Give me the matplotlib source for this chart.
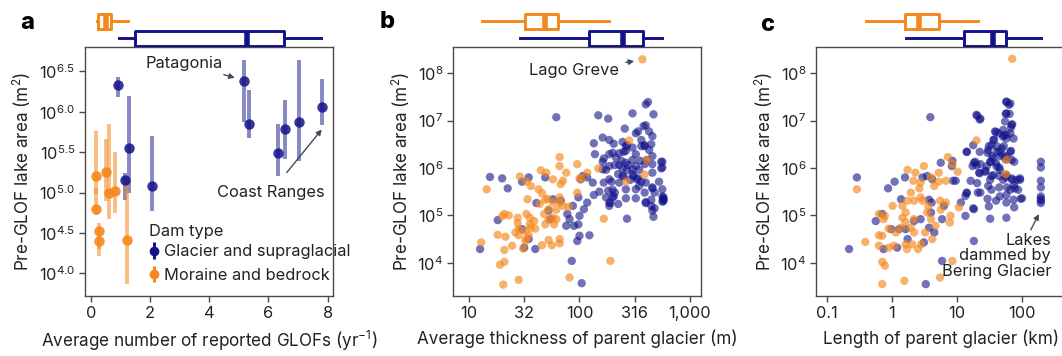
import numpy as np
import matplotlib
matplotlib.use("Agg")
import matplotlib.pyplot as plt
from matplotlib.ticker import NullLocator

plt.rcParams['font.family'] = ['Inter', 'DejaVu Sans']
plt.rcParams['mathtext.fontset'] = 'custom'
plt.rcParams['mathtext.rm'] = 'Inter'
plt.rcParams['mathtext.it'] = 'Inter:italic'
plt.rcParams['mathtext.bf'] = 'Inter:bold'
plt.rcParams['axes.unicode_minus'] = True

NAVY = '#12128a'
ORANGE = '#f5881c'
SPINE = '#4a4a4a'
TXT = '#222222'
ARROW = '#3d4b5c'
FS = 11.8

# ---------------- panel a: GLOF frequency vs lake area (log10 m2) ----------------
glacier_rate = [0.92, 1.29, 1.16, 2.06, 5.18, 5.35, 6.33, 6.57, 7.04, 7.80]
glacier_area = [6.33, 5.55, 5.16, 5.08, 6.38, 5.85, 5.49, 5.78, 5.87, 6.06]
glacier_lo = [6.18, 5.00, 4.91, 4.77, 5.87, 5.68, 5.20, 5.42, 5.39, 5.84]
glacier_hi = [6.43, 6.19, 5.24, 5.70, 6.64, 6.27, 5.85, 6.15, 6.64, 6.40]

moraine_rate = [0.17, 0.17, 0.26, 0.28, 0.50, 0.60, 0.82, 1.23]
moraine_area = [5.20, 4.80, 4.52, 4.40, 5.26, 5.00, 5.02, 4.41]
moraine_lo = [4.98, 4.72, 4.30, 4.22, 4.90, 4.67, 4.75, 3.87]
moraine_hi = [5.76, 5.05, 4.62, 4.55, 5.66, 5.85, 5.50, 5.16]

# box summaries (whislo, q1, med, q3, whishi)
box_a_moraine = [0.19, 0.23, 0.51, 0.68, 1.24]
box_a_glacier = [0.96, 1.49, 5.26, 6.52, 7.79]

# ---------------- panel b: glacier thickness (log10 m) vs lake area (log10 m2) ----
thick_moraine = [2.57, 2.45, 2.61, 2.59, 2.42, 2.17, 2.22, 2.28, 1.91, 1.82,
                 1.82, 1.98, 1.88, 2.07, 2.02, 1.65, 1.70, 1.76, 1.85, 1.83,
                 1.52, 1.46, 1.56, 1.63, 1.66, 1.71, 1.69, 1.53, 1.76, 1.82,
                 1.72, 1.76, 1.79, 1.85, 1.82, 1.90, 1.64, 1.68, 1.52, 1.55,
                 1.59, 1.72, 1.79, 1.77, 1.69, 1.60, 1.56, 1.55, 1.51, 1.32,
                 1.36, 1.30, 1.44, 1.44, 1.45, 1.42, 1.52, 1.51, 1.49, 1.54,
                 1.45, 1.33, 1.26, 1.39, 1.32, 1.66, 1.72, 1.75, 1.82, 1.82,
                 1.16, 1.11, 1.32, 1.28, 1.45, 1.31, 1.98, 2.00]
area_b_moraine = [8.29, 6.58, 6.17, 5.86, 5.71, 5.99, 4.93, 4.04, 3.69, 6.23,
                  6.04, 6.08, 5.90, 5.90, 5.78, 5.95, 5.90, 5.76, 5.73, 5.66,
                  5.71, 5.82, 5.62, 5.55, 5.47, 5.35, 5.33, 5.34, 5.27, 5.27,
                  5.13, 4.95, 5.12, 5.20, 5.38, 5.18, 5.24, 5.03, 5.03, 4.95,
                  4.88, 4.91, 4.92, 4.81, 4.81, 4.72, 4.74, 4.81, 4.67, 5.03,
                  5.00, 4.98, 4.95, 4.84, 4.72, 4.64, 4.50, 4.46, 4.30, 4.58,
                  4.58, 4.55, 4.59, 4.36, 4.27, 4.37, 4.48, 4.37, 4.50, 4.41,
                  5.55, 4.43, 4.02, 3.96, 3.64, 3.54, 5.48, 5.78]

thick_glacier = [1.79, 2.17, 2.26, 2.48, 2.62, 2.60, 2.67, 2.41, 2.58, 2.60,
                 2.53, 2.51, 2.63, 2.66, 2.21, 2.27, 2.31, 2.13, 2.42, 2.48,
                 2.56, 2.65, 2.59, 2.51, 2.42, 2.30, 2.36, 2.14, 2.27, 2.21,
                 2.33, 2.38, 2.42, 2.48, 2.55, 2.61, 2.66, 2.75, 2.27, 2.32,
                 2.36, 2.39, 2.44, 2.48, 2.51, 2.54, 2.59, 2.66, 2.75, 2.66,
                 2.72, 2.75, 2.76, 2.76, 2.66, 2.60, 2.59, 2.68, 2.60, 2.65,
                 2.66, 2.67, 2.43, 2.51, 2.42, 2.27, 2.35, 2.39, 2.48, 2.52,
                 2.29, 2.36, 2.26, 2.32, 2.30, 2.27, 2.35, 2.12, 2.07, 2.03,
                 2.01, 2.13, 2.07, 2.04, 1.99, 1.94, 1.89, 1.91, 2.00, 1.99,
                 1.95, 1.88, 2.00, 2.09, 1.98, 1.93, 2.02, 1.83, 1.76, 1.61,
                 1.72, 1.74, 1.48, 1.54, 1.30, 1.35, 1.19, 1.69, 1.26, 1.48,
                 1.54, 1.50, 1.60, 1.10, 2.27, 2.24, 2.18, 2.22, 2.21, 2.42,
                 2.51, 2.54, 2.76, 2.76, 2.43, 2.46, 2.53, 2.56, 2.30, 2.31,
                 2.28, 2.40, 2.49, 2.66, 2.65, 2.68, 2.60, 2.40, 2.43, 2.56,
                 2.59, 2.63, 2.39, 2.22, 2.24, 2.75, 2.75, 2.74, 2.74]
area_b_glacier = [7.07, 7.11, 7.04, 7.15, 7.39, 7.34, 7.13, 6.83, 6.88, 6.90,
                  6.77, 6.73, 6.77, 6.67, 6.64, 6.59, 6.51, 6.52, 6.46, 6.43,
                  6.46, 6.50, 6.46, 6.29, 6.36, 6.32, 6.31, 6.29, 6.29, 6.13,
                  6.22, 6.15, 6.11, 6.17, 6.15, 6.17, 6.25, 6.13, 6.04, 6.06,
                  6.06, 5.99, 6.06, 5.97, 6.04, 5.96, 6.08, 6.08, 6.01, 5.90,
                  5.71, 5.55, 5.38, 5.33, 5.59, 5.69, 5.48, 5.48, 5.28, 5.20,
                  5.10, 4.97, 4.93, 5.36, 5.36, 5.76, 5.87, 5.83, 5.87, 5.76,
                  5.71, 5.69, 5.52, 5.48, 5.38, 5.20, 5.24, 5.69, 5.80, 5.83,
                  5.76, 5.43, 5.27, 5.13, 5.38, 5.20, 5.03, 4.92, 4.99, 4.81,
                  4.78, 4.78, 4.57, 4.58, 4.46, 4.04, 3.57, 5.31, 5.34, 5.26,
                  5.10, 4.92, 5.71, 5.80, 5.78, 5.57, 5.81, 5.80, 4.90, 4.71,
                  4.50, 4.32, 4.29, 4.29, 5.27, 5.38, 5.50, 5.69, 5.97, 5.55,
                  5.55, 5.62, 5.35, 5.30, 5.96, 5.75, 5.78, 5.71, 5.54, 5.40,
                  5.26, 5.82, 5.83, 5.57, 5.33, 5.15, 5.26, 6.34, 6.48, 6.59,
                  6.48, 6.38, 6.55, 6.20, 5.96, 5.40, 5.29, 6.13, 5.99]

box_b_moraine = [1.115, 1.51, 1.69, 1.81, 2.27]
box_b_glacier = [1.46, 2.09, 2.39, 2.575, 2.75]

# ---------------- panel c: glacier length (log10 km) vs lake area (log10 m2) ------
length_moraine = [1.85, 1.30, 1.76, 1.75, 0.86, 0.49, 0.93, 1.01, 0.36, 0.24,
                  0.33, 0.44, 0.60, 0.72, 0.83, 0.42, 0.29, 0.44, 0.24, 0.34,
                  0.47, 0.56, 0.74, 0.83, 1.03, 0.16, 0.01, 0.54, 0.75, 0.90,
                  0.60, 0.67, 0.34, 0.21, 0.16, 0.21, 0.29, 0.14, 0.06, -0.20,
                  -0.11, -0.13, -0.05, -0.20, -0.15, -0.05, 0.03, -0.20, 0.21, 0.31,
                  0.45, 0.40, -0.41, -0.15, -0.11, -0.54, 0.19, -0.15, 0.74, 0.93,
                  0.51, 0.34, 0.23, 0.62, 0.89, 0.72, 0.65]
area_c_moraine = [8.30, 6.58, 6.17, 5.87, 6.23, 6.04, 6.08, 5.92, 5.90, 5.96,
                  5.73, 5.69, 5.80, 5.71, 5.73, 5.57, 5.48, 5.38, 5.31, 5.31,
                  5.31, 5.20, 5.31, 5.27, 5.17, 5.20, 5.20, 5.06, 5.12, 4.99,
                  4.92, 4.78, 4.92, 5.06, 4.95, 4.86, 4.74, 4.74, 4.64, 5.03,
                  4.99, 4.92, 4.72, 4.58, 4.57, 4.32, 4.36, 4.36, 4.39, 4.39,
                  4.39, 4.29, 4.44, 4.02, 3.94, 5.55, 3.62, 3.55, 3.69, 4.04,
                  4.64, 4.64, 4.29, 4.50, 4.85, 5.90, 5.62]

length_glacier = [0.59, 1.31, 1.36, 1.76, 1.80, 1.75, 1.85, 1.83, 1.60, 1.72,
                  1.76, 1.57, 1.61, 1.72, 1.65, 1.49, 1.47, 1.54, 1.67, 1.75,
                  1.83, 1.88, 1.15, 1.26, 1.36, 1.46, 1.52, 1.60, 1.65, 1.44,
                  1.34, 1.53, 1.65, 1.75, 1.85, 1.97, 1.88, 1.77, 1.65, 1.48,
                  1.31, 1.21, 1.24, 0.75, 0.92, 0.98, 1.15, 1.36, 1.47, 1.60,
                  1.76, 1.88, 1.98, 1.49, 1.32, 1.13, 1.26, 1.13, 1.51, 1.76,
                  2.29, 2.29, 2.29, 2.29, 2.29, 2.29, 2.29, 2.29, 0.54, 0.62,
                  0.47, 0.20, 0.04, -0.06, -0.54, 0.14, 0.57, 0.61, 0.80, 0.94,
                  0.77, 0.60, 0.44, 0.34, 0.57, 0.65, 0.21, 0.11, -0.15, -0.25,
                  -0.01, -0.13, 0.08, 0.24, 0.49, -0.66, 0.77, 1.26, 0.52, 0.93,
                  1.06, 1.585, 1.64, 1.71, 1.76, 1.84, 1.82, 1.87, 1.56, 1.53,
                  1.61, 1.69, 1.71, 1.76, 1.56, 1.51, 1.61, 1.66, 1.56, 1.51,
                  1.71, 1.76, 1.84, 1.92, 1.89, 1.82, 1.76, 1.66, 1.53, 1.35,
                  1.30, 1.28, 1.43, 1.35, 1.25, 1.48, 1.82, 1.76, 1.76, 1.81,
                  1.30, 1.35, 1.74, 1.71, 1.82, 1.84, 1.97, 1.94, 1.87, 2.00,
                  1.15, 1.15, 1.25]
area_c_glacier = [7.07, 7.10, 7.04, 7.39, 7.33, 7.14, 6.92, 6.85, 6.76, 6.69,
                  6.62, 6.60, 6.46, 6.46, 6.34, 6.46, 6.32, 6.25, 6.25, 6.18,
                  6.36, 6.13, 6.34, 6.11, 6.08, 6.04, 6.13, 6.10, 6.01, 5.94,
                  5.90, 5.83, 5.83, 5.80, 5.75, 5.75, 5.64, 5.59, 5.59, 5.62,
                  5.68, 5.73, 6.04, 6.11, 6.04, 5.73, 5.48, 5.48, 5.35, 5.31,
                  5.27, 5.17, 5.35, 5.19, 5.48, 5.41, 5.13, 4.99, 4.93, 4.95,
                  6.13, 6.01, 5.73, 5.59, 5.40, 5.35, 5.31, 5.26, 5.83, 5.76,
                  5.80, 5.80, 5.71, 5.57, 5.80, 5.34, 5.33, 5.27, 5.20, 5.73,
                  4.92, 5.06, 4.92, 4.88, 4.74, 4.64, 4.71, 4.71, 5.03, 4.88,
                  4.71, 4.29, 4.32, 4.50, 4.43, 4.29, 4.04, 4.46, 3.55, 6.15,
                  5.27, 6.77, 6.73, 6.66, 6.70, 6.91, 6.73, 6.62, 6.59, 6.48,
                  6.34, 6.41, 6.27, 6.24, 6.20, 6.13, 6.03, 5.96, 5.85, 5.75,
                  5.75, 5.85, 5.78, 5.75, 5.57, 5.54, 5.43, 5.40, 5.54, 5.89,
                  6.06, 6.13, 5.92, 6.34, 6.48, 6.38, 7.36, 7.40, 7.15, 7.14,
                  7.12, 7.02, 6.98, 6.80, 6.34, 6.17, 5.78, 5.54, 5.33, 5.36,
                  5.47, 6.34, 5.15]

box_c_moraine = [-0.40, 0.205, 0.41, 0.72, 1.33]
box_c_glacier = [0.215, 1.11, 1.56, 1.75, 2.29]

# ---------------------------------------------------------------------------------
W, H = 1062, 356
fig = plt.figure(figsize=(W / 100, H / 100), dpi=100)


def frac(x0, x1, y0, y1):
    return [x0 / W, 1 - y1 / H, (x1 - x0) / W, (y1 - y0) / H]


ax_a = fig.add_axes(frac(85, 333, 47, 296))
ax_b = fig.add_axes(frac(453, 701, 47, 296))
ax_c = fig.add_axes(frac(816, 1066, 47, 296))


def style_axes(ax):
    for s in ax.spines.values():
        s.set_color(SPINE)
        s.set_linewidth(1.0)
    ax.tick_params(direction='out', length=4, width=1.0, color=SPINE,
                   labelsize=FS, labelcolor=TXT, pad=3)


for ax in (ax_a, ax_b, ax_c):
    style_axes(ax)

ylabel = r'Pre-GLOF lake area (m$\mathregular{^2}$)'
LFS = 12.3

# panel a
ax_a.vlines(glacier_rate, glacier_lo, glacier_hi, color=NAVY, alpha=0.5, lw=2.8)
ax_a.vlines(moraine_rate, moraine_lo, moraine_hi, color=ORANGE, alpha=0.55, lw=2.8)
ax_a.plot(moraine_rate, moraine_area, 'o', color=ORANGE, ms=7.5, mec='none', alpha=0.9)
ax_a.plot(glacier_rate, glacier_area, 'o', color=NAVY, ms=7.5, mec='none', alpha=0.85)
ax_a.set_xlim(-0.2, 8.18)
ax_a.set_ylim(3.72, 6.80)
ax_a.set_xticks([0, 2, 4, 6, 8])
yt = [4.0, 4.5, 5.0, 5.5, 6.0, 6.5]
ax_a.set_yticks(yt, [r'$\mathregular{10^{%.1f}}$' % v for v in yt])
ax_a.set_xlabel(r'Average number of reported GLOFs (yr$\mathregular{^{-1}}$)',
                fontsize=LFS, color=TXT, labelpad=6)
ax_a.set_ylabel(ylabel, fontsize=LFS, color=TXT, labelpad=4)

h_g = ax_a.errorbar([np.nan], [np.nan], yerr=[[1], [1]], fmt='o', color=NAVY,
                    ms=7, mec='none', elinewidth=2.2, capsize=0)
h_m = ax_a.errorbar([np.nan], [np.nan], yerr=[[1], [1]], fmt='o', color=ORANGE,
                    ms=7, mec='none', elinewidth=2.2, capsize=0)
leg = ax_a.legend([h_g, h_m], ['Glacier and supraglacial', 'Moraine and bedrock'],
                  title='Dam type', loc='upper left', bbox_to_anchor=(0.26, 0.29),
                  frameon=False, fontsize=FS, title_fontsize=FS,
                  handlelength=0.6, handletextpad=0.3, labelspacing=0.5,
                  borderaxespad=0, borderpad=0)
leg._legend_box.align = 'left'
leg._legend_box.sep = 4
for t in leg.get_texts():
    t.set_color(TXT)
leg.get_title().set_color(TXT)

ax_a.annotate('Patagonia', xy=(4.95, 6.41), xytext=(3.15, 6.60),
              fontsize=FS, color=TXT, ha='center', va='center',
              arrowprops=dict(arrowstyle='-|>', color=ARROW, lw=1.0,
                              mutation_scale=8, shrinkA=3, shrinkB=2))
ax_a.annotate('Coast Ranges', xy=(7.8, 5.78), xytext=(6.07, 5.0),
              fontsize=FS, color=TXT, ha='center', va='center',
              arrowprops=dict(arrowstyle='-|>', color=ARROW, lw=1.0,
                              mutation_scale=8, shrinkA=9, shrinkB=0))

# panels b and c: scatter on log axes
def scatter_panel(ax, xg, yg, xm, ym):
    ax.scatter(10 ** np.array(xg), 10 ** np.array(yg), s=36, color=NAVY,
               alpha=0.6, edgecolors='none', zorder=2)
    ax.scatter(10 ** np.array(xm), 10 ** np.array(ym), s=36, color=ORANGE,
               alpha=0.65, edgecolors='none', zorder=3)
    ax.set_xscale('log')
    ax.set_yscale('log')
    ax.set_ylim(10 ** 3.3, 10 ** 8.55)
    yt = [1e4, 1e5, 1e6, 1e7, 1e8]
    ax.set_yticks(yt, [r'$\mathregular{10^{%d}}$' % int(np.log10(v)) for v in yt])
    ax.yaxis.set_minor_locator(NullLocator())
    ax.xaxis.set_minor_locator(NullLocator())
    ax.set_ylabel(ylabel, fontsize=LFS, color=TXT, labelpad=4)


scatter_panel(ax_b, thick_glacier, area_b_glacier, thick_moraine, area_b_moraine)
ax_b.set_xlim(10 ** 0.855, 10 ** 3.1)
ax_b.set_xticks([10, 31.6, 100, 316, 1000], ['10', '32', '100', '316', '1,000'])
ax_b.xaxis.set_minor_locator(NullLocator())
ax_b.set_xlabel('Average thickness of parent glacier (m)', fontsize=LFS, color=TXT, labelpad=6)
ax_b.annotate('Lago Greve', xy=(10 ** 2.52, 10 ** 8.26), xytext=(10 ** 1.95, 10 ** 8.06),
              fontsize=FS, color=TXT, ha='center', va='center',
              arrowprops=dict(arrowstyle='-|>', color=ARROW, lw=1.0,
                              mutation_scale=8, shrinkA=3, shrinkB=2))

scatter_panel(ax_c, length_glacier, area_c_glacier, length_moraine, area_c_moraine)
ax_c.set_xlim(10 ** -1.169, 10 ** 2.677)
ax_c.set_xticks([0.1, 1, 10, 100], ['0.1', '1', '10', '100'])
ax_c.xaxis.set_minor_locator(NullLocator())
ax_c.set_xlabel('Length of parent glacier (km)', fontsize=LFS, color=TXT, labelpad=6)
ax_c.annotate('Lakes\ndammed by\nBering Glacier', xy=(10 ** 2.28, 10 ** 5.08),
              xytext=(10 ** 2.45, 10 ** 4.15), fontsize=FS, color=TXT,
              ha='right', va='center', linespacing=1.05,
              arrowprops=dict(arrowstyle='-|>', color=ARROW, lw=1.0,
                              mutation_scale=8, shrinkA=0, shrinkB=2,
                              relpos=(0.8, 1.0)))

# marginal box plots above each panel
def box_axes(main, x0, x1, moraine, glacier, log=False):
    bx = fig.add_axes(frac(x0, x1, 10, 47), sharex=main)
    bx.set_ylim(0.488, 2.664)
    bx.axis('off')
    for vals, pos, col in ((moraine, 2, ORANGE), (glacier, 1, NAVY)):
        v = [10 ** a for a in vals] if log else list(vals)
        stats = [dict(whislo=v[0], q1=v[1], med=v[2], q3=v[3], whishi=v[4], fliers=[])]
        bx.bxp(stats, positions=[pos], widths=0.9, vert=False, showcaps=False,
               showfliers=False,
               boxprops=dict(color=col, lw=2.1),
               whiskerprops=dict(color=col, lw=2.1),
               medianprops=dict(color=col, lw=4.0, solid_capstyle='butt'))
    return bx


box_axes(ax_a, 85, 333, box_a_moraine, box_a_glacier)
box_axes(ax_b, 453, 701, box_b_moraine, box_b_glacier, log=True)
box_axes(ax_c, 816, 1066, box_c_moraine, box_c_glacier, log=True)
ax_c.set_xlim(10 ** -1.169, 10 ** 2.677)

for letter, x, y in (('a', 20, 23), ('b', 380, 22), ('c', 760, 25)):
    fig.text(x / W, 1 - y / H, letter, fontsize=17, fontweight='heavy',
             color='black', ha='left', va='center')

fig.savefig('out.png', dpi=100)
